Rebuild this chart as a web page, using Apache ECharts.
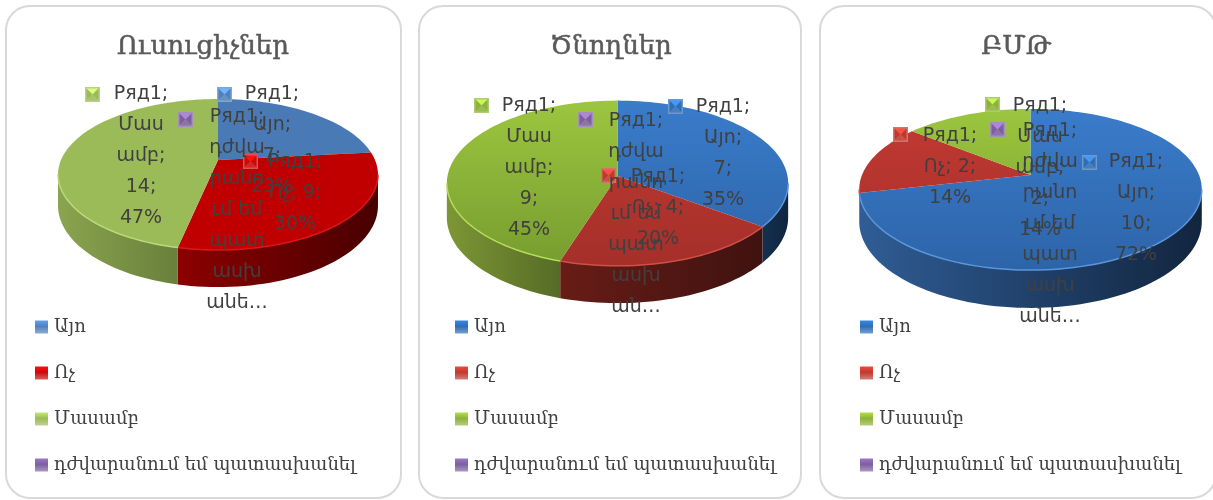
<!DOCTYPE html>
<html>
<head>
<meta charset="utf-8">
<title>Հարցում</title>
<style>
html,body{margin:0;padding:0;background:#fff;}
#chart{width:1213px;height:500px;}
</style>
<script src="https://cdn.jsdelivr.net/npm/echarts@6/dist/echarts.min.js"></script>
</head>
<body>
<div id="chart"></div>
<script>
// data
var categories = ['Այո', 'Ոչ', 'Մասամբ', 'դժվարանում եմ պատասխանել'];
var panelTitles = ['Ուսուցիչներ', 'Ծնողներ', 'ԲՄԹ'];
var teacherValues = [7, 9, 14, 0];
var parentValues = [7, 4, 9, 0];
var bmtValues = [10, 2, 2, 0];
var hardLabel = 'Ряд1;\nդժվա\nրանո\nւմ եմ\nպատ\nասխ\nանե…';
var teacherLabels = ['Ряд1;\nԱյո;\n7;\n23%', 'Ряд1;\nՈչ; 9;\n30%', 'Ряд1;\nՄաս\nամբ;\n14;\n47%', hardLabel];
var parentLabels = ['Ряд1;\nԱյո;\n7;\n35%', 'Ряд1;\nՈչ; 4;\n20%', 'Ряд1;\nՄաս\nամբ;\n9;\n45%', 'Ряд1;\nդժվա\nրանո\nւմ եմ\nպատ\nասխ\nան…'];
var bmtLabels = ['Ряд1;\nԱյո;\n10;\n72%', 'Ряд1;\nՈչ; 2;\n14%', 'Ряд1;\nՄաս\nամբ;\n2;\n14%', hardLabel];

// layout of the three panels (pie perspective: R, a, k; drop = rim height)
var panels = [
  {values: teacherValues, labels: teacherLabels, titleX: 203, legendX: 35, box: [6, 6, 395, 492],
   cx: 218, apex: 160, R: 157, a: 72.7, k: 0.192, drop: 30,
   top: [['#4a7ab5', '#4a7ab5'], ['#c00000', '#c00000'], ['#9bbb59', '#9bbb59'], ['#7d5fa0', '#7d5fa0']],
   wall: [['#33557f', '#22395a'], ['#8c0000', '#480000'], ['#8ba44f', '#68803a'], ['#5a4474', '#3e2f50']],
   rim: ['#6f97c8', '#d81818', '#bcd97a', '#9a80bb'],
   keys: ['#4f81bd', '#cc0a0a', '#9bbb59', '#7d5fa0'],
   textPos: [[272, 79], [295, 147], [141, 79], [237, 102]], keyPos: [[217, 87], [243, 154], [85, 87], [178, 112]]},
  {values: parentValues, labels: parentLabels, titleX: 611, legendX: 455, box: [419, 6, 382, 492],
   cx: 617.5, apex: 176, R: 170, a: 82, k: 0.0875, drop: 34,
   top: [['#3a7ccb', '#2d64a8'], ['#c23a32', '#a52f2a'], ['#9cc63f', '#779c2f'], ['#7d5fa0', '#7d5fa0']],
   wall: [['#15304f', '#0f2540'], ['#681c16', '#3f1210'], ['#7d9635', '#566b26'], ['#5a4474', '#3e2f50']],
   rim: ['#5b95dc', '#cf4f46', '#b4dc5c', '#9a80bb'],
   keys: ['#2f6db5', '#c0392f', '#8db33a', '#7d5fa0'],
   textPos: [[723, 92], [658, 162], [529, 91], [636, 106]], keyPos: [[668, 99], [601, 168], [474, 98], [578, 112]]},
  {values: bmtValues, labels: bmtLabels, titleX: 1016, legendX: 860, box: [820, 6, 396, 492],
   cx: 1030.5, apex: 175, R: 168.5, a: 78, k: 0.18, drop: 31,
   top: [['#3a7ccb', '#2d64a8'], ['#c23a32', '#a52f2a'], ['#9cc63f', '#779c2f'], ['#7d5fa0', '#7d5fa0']],
   wall: [['#2f5d95', '#12253f'], ['#681c16', '#3f1210'], ['#7d9635', '#566b26'], ['#5a4474', '#3e2f50']],
   rim: ['#5b95dc', '#cf4f46', '#b4dc5c', '#9a80bb'],
   keys: ['#2f6db5', '#c0392f', '#8db33a', '#7d5fa0'],
   textPos: [[1136, 147], [950, 121], [1040, 91], [1050, 116]], keyPos: [[1082, 155], [893, 127], [985, 97], [990, 122]]}
];

var armenianFont = '"DejaVu Serif", serif';
var labelFont = '"DejaVu Sans", sans-serif';

//project an angle on the pie rim
var rimPoint = function (panel, deg, drop) {
  var rad = deg * Math.PI / 180;
  var u = Math.sin(rad), v = -Math.cos(rad);
  var d = 1 - panel.k * v;
  return [panel.cx + panel.R * u / d, panel.apex + (panel.a * v + drop) / d];
};

var arcPoints = function (panel, from, to, drop) {
  var pts = [];
  var steps = Math.max(2, Math.ceil((to - from) / 2));
  for (var i = 0; i <= steps; i++) {
    pts.push(rimPoint(panel, from + (to - from) * i / steps, drop));
  }
  return pts;
};

//one slice: wall, top face, rim highlight
var sliceRender = function (panel, index, start, end) {
  return function () {
    if (end <= start) {
      return {type: 'group', children: []};
    }
    var children = [];
    var first = Math.acos(-panel.k) * 180 / Math.PI;
    var wallFrom = Math.max(start, first), wallTo = Math.min(end, 360 - first);
    if (wallTo > wallFrom) {
      var upper = arcPoints(panel, wallFrom, wallTo, 0);
      var lower = arcPoints(panel, wallFrom, wallTo, panel.drop).reverse();
      children.push({
        type: 'polygon',
        shape: {points: upper.concat(lower)},
        style: {fill: new echarts.graphic.LinearGradient(0, 0, 1, 0, [
          {offset: 0, color: panel.wall[index][0]},
          {offset: 1, color: panel.wall[index][1]}
        ])}
      });
    }
    var face = [[panel.cx, panel.apex]].concat(arcPoints(panel, start, end, 0));
    children.push({
      type: 'polygon',
      shape: {points: face},
      style: {fill: new echarts.graphic.LinearGradient(0, rimPoint(panel, 0, 0)[1], 0, rimPoint(panel, 180, 0)[1], [
        {offset: 0, color: panel.top[index][0]},
        {offset: 1, color: panel.top[index][1]}
      ], true)}
    });
    if (wallTo > wallFrom) {
      children.push({
        type: 'polyline',
        shape: {points: arcPoints(panel, wallFrom, wallTo, 0)},
        style: {stroke: panel.rim[index], lineWidth: 1.5, fill: null}
      });
    }
    return {type: 'group', children: children};
  };
};

//bevelled key in front of a data label (lift: positive is darker)
var keyIcon = function (x, y, size, color) {
  var m = size / 2, b = size * 0.1;
  var tri = function (pts, fill) {
    return {type: 'polygon', shape: {points: pts}, style: {fill: fill}};
  };
  return [
    {type: 'rect', shape: {x: x, y: y, width: size, height: size}, style: {fill: echarts.color.lift(color, 0.3)}},
    tri([[x + b, y + b], [x + size - b, y + b], [x + m, y + m]], echarts.color.lift(color, -0.4)),
    tri([[x + b, y + b], [x + m, y + m], [x + b, y + size - b]], color),
    tri([[x + size - b, y + b], [x + m, y + m], [x + size - b, y + size - b]], color),
    tri([[x + b, y + size - b], [x + size - b, y + size - b], [x + m, y + m]], echarts.color.lift(color, 0.12))
  ];
};

var labelRender = function (panel) {
  return function (params) {
    var i = params.dataIndex;
    var children = keyIcon(panel.keyPos[i][0], panel.keyPos[i][1], 15, panel.keys[i]);
    children.push({
      type: 'text',
      style: {
        text: panel.labels[i],
        x: panel.textPos[i][0],
        y: panel.textPos[i][1],
        align: 'center',
        verticalAlign: 'top',
        font: '19px ' + labelFont,
        lineHeight: 31,
        fill: '#404040'
      }
    });
    return {type: 'group', children: children};
  };
};

var series = [], titles = [], legends = [], boxes = [];

panels.forEach(function (panel, p) {
  var total = panel.values.reduce(function (s, v) { return s + v; }, 0);
  var sum = 0;
  panel.values.forEach(function (value, i) {
    var start = sum / total * 360;
    sum += value;
    series.push({
      name: categories[i],
      type: 'custom',
      coordinateSystem: 'none',
      silent: true,
      z: 2,
      data: [[value]],
      renderItem: sliceRender(panel, i, start, sum / total * 360)
    });
  });
  series.push({
    name: 'Ряд1',
    type: 'custom',
    coordinateSystem: 'none',
    silent: true,
    z: 5,
    data: panel.labels.map(function (t, i) { return [i]; }),
    renderItem: labelRender(panel)
  });
  titles.push({
    text: panelTitles[p],
    left: panel.titleX,
    top: 34,
    textAlign: 'center',
    padding: 0,
    textStyle: {fontFamily: armenianFont, fontSize: 26, fontWeight: 'normal', color: '#595959', textBorderColor: '#595959', textBorderWidth: 0.5}
  });
  legends.push({
    orient: 'vertical',
    left: panel.legendX,
    top: 318,
    padding: 0,
    itemGap: 28,
    itemWidth: 13,
    itemHeight: 13,
    selectedMode: false,
    textStyle: {fontFamily: armenianFont, fontSize: 18, color: '#404040', padding: [0, 0, 0, 1]},
    data: categories.map(function (name, i) {
      return {
        name: name,
        icon: 'rect',
        itemStyle: {color: new echarts.graphic.LinearGradient(0, 0, 0, 1, [
          {offset: 0, color: echarts.color.lift(panel.keys[i], -0.25)},
          {offset: 0.45, color: panel.keys[i]},
          {offset: 1, color: echarts.color.lift(panel.keys[i], 0.35)}
        ])}
      };
    })
  });
  boxes.push({
    type: 'rect',
    z: -1,
    shape: {x: panel.box[0], y: panel.box[1], width: panel.box[2], height: panel.box[3], r: 24},
    style: {fill: '#fff', stroke: '#d9d9d9', lineWidth: 2}
  });
});

var chart = echarts.init(document.getElementById('chart'));
chart.setOption({
  backgroundColor: '#fff',
  animation: false,
  title: titles,
  legend: legends,
  graphic: boxes,
  series: series
});
</script>
</body>
</html>
